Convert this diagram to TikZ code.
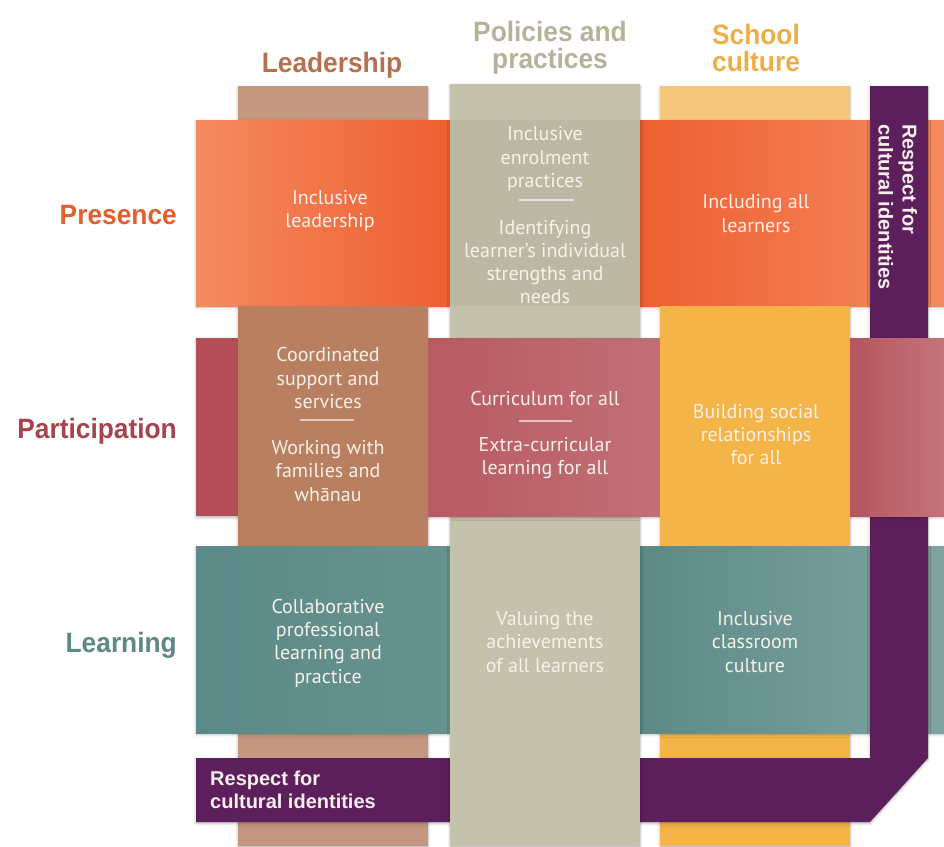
\documentclass[tikz,border=0pt]{standalone}
\usepackage{fontspec}
\setmainfont{PT Sans}
\newfontfamily\cellfam{PT Sans}
\newfontfamily\headfam[FakeStretch=0.94]{Liberation Sans}
\newfontfamily\bandfam{Liberation Sans}
\usetikzlibrary{shadows.blur}

\definecolor{leadL}{HTML}{C49880}
\definecolor{leadD}{HTML}{B87F60}
\definecolor{polC}{HTML}{C4C1AC}
\definecolor{polD}{HTML}{BCB8A3}
\definecolor{schL}{HTML}{F6C67A}
\definecolor{schC}{HTML}{F5B447}
\definecolor{purp}{HTML}{5C1F5B}
\definecolor{presL}{HTML}{F58A60}
\definecolor{presD}{HTML}{EE5F30}
\definecolor{partA}{HTML}{B34D57}
\definecolor{partM1}{HTML}{B85A62}
\definecolor{partM2}{HTML}{C26F77}
\definecolor{partR1}{HTML}{B5545E}
\definecolor{partR2}{HTML}{C4747B}
\definecolor{learnA}{HTML}{5C8A88}
\definecolor{learnB}{HTML}{66938F}
\definecolor{learnL}{HTML}{80A4A0}
\definecolor{celltext}{HTML}{F8F1EA}
\definecolor{hLead}{HTML}{B5714F}
\definecolor{hPol}{HTML}{B5B29A}
\definecolor{hSch}{HTML}{ECAF48}
\definecolor{hPres}{HTML}{E0602E}
\definecolor{hPart}{HTML}{A6434B}
\definecolor{hLearn}{HTML}{5C8886}

\newcommand\cellfont{\cellfam\fontsize{20}{23.3}\selectfont}
\newcommand\headfont{\headfam\bfseries\fontsize{28}{28}\selectfont}
\newcommand\bandfont{\bandfam\bfseries\fontsize{20}{23}\selectfont}

\begin{document}
\begin{tikzpicture}[x=1pt,y=-1pt,
  shad/.style={blur shadow={shadow xshift=0pt,shadow yshift=-1.5pt,shadow blur radius=2.5pt,shadow opacity=30}},
  cell/.style={font=\cellfont,text=celltext,align=center,inner sep=0pt},
  head/.style={font=\headfont,inner sep=0pt},
  band/.style={font=\bandfont,text=celltext,inner sep=0pt},
  sepline/.style={draw=white,draw opacity=0.6,line width=1.5pt}]
\useasboundingbox (0,0) rectangle (944,846);

% columns: leadership and school culture
\path[fill=leadL,shad] (238,86) rectangle (428,846);
\path[fill=schC,shad] (660,86) rectangle (850,846);
\fill[schL] (660,86) rectangle (850,122);

% presence row
\path[shad,left color=presL,right color=presD] (196,120) rectangle (450,306);
\path[shad,left color=presD,right color=presL] (640,120) rectangle (944,306);

% learning row
\path[shad,left color=learnA,right color=learnB] (196,546) rectangle (450,733);
\path[shad,left color=learnA,right color=learnL] (640,546) rectangle (944,733);

% purple band
\path[fill=purp,shad] (196,758) -- (870,758) -- (870,86) -- (928,86) -- (928,758) -- (870,822) -- (196,822) -- cycle;

% policies column
\path[fill=polC,shad] (450,84) rectangle (640,846);
\fill[polD] (450,120) rectangle (640,306);

% participation row pieces
\path[fill=partA,shad] (196,338) rectangle (240,516);
\path[shad,left color=partM1,right color=partM2] (426,338) rectangle (662,516);
\path[shad,left color=partR1,right color=partR2] (848,338) rectangle (944,516);

% column segments over participation row
\fill[leadD] (238,306) rectangle (428,546);
\fill[schC] (660,306) rectangle (850,546);

% separators
\draw[sepline] (519,200) -- (574,200);
\draw[sepline] (300,420) -- (354,420);
\draw[sepline] (519,421) -- (572,421);

% cell texts
\node[cell] (c11) at (330,211) {Inclusive\\leadership};
\node[cell] (c12a) at (545,159) {Inclusive\\enrolment\\practices};
\node[cell] (c12b) at (545,262) {Identifying\\learner’s individual\\strengths and\\needs};
\node[cell] (c13) at (756,213.5) {Including all\\learners};
\node[cell] (c21a) at (328,378) {Coordinated\\support and\\services};
\node[cell] (c21b) at (328,471) {Working with\\families and\\whānau};
\node[cell] (c22a) at (545,398) {Curriculum for all};
\node[cell] (c22b) at (545,458) {Extra-curricular\\learning for all};
\node[cell] (c23) at (756,434.5) {Building social\\relationships\\for all};
\node[cell] (c31) at (328,643) {Collaborative\\professional\\learning and\\practice};
\node[cell] (c32) at (545,642) {Valuing the\\achievements\\of all learners};
\node[cell] (c33) at (755,642) {Inclusive\\classroom\\culture};

% headings
\node[head,text=hLead,anchor=base] (hlead) at (332,72.7) {Leadership};
\node[head,text=hPol,anchor=base] (hpol1) at (550,41) {Policies and};
\node[head,text=hPol,anchor=base] (hpol2) at (550,68.5) {practices};
\node[head,text=hSch,anchor=base] (hsch1) at (756,44) {School};
\node[head,text=hSch,anchor=base] (hsch2) at (756,71.5) {culture};
\node[head,text=hPres,anchor=base east] (rpres) at (177,224) {Presence};
\node[head,text=hPart,anchor=base east] (rpart) at (177,438) {Participation};
\node[head,text=hLearn,anchor=base east] (rlearn) at (177,652) {Learning};

% purple band texts
\node[band,anchor=base west] (b1) at (210,785) {Respect for};
\node[band,anchor=base west] (b2) at (210,808) {cultural identities};
\node[band,rotate=-90,anchor=base west] (v1) at (902.5,124) {Respect for};
\node[band,rotate=-90,anchor=base west] (v2) at (878.5,124) {cultural identities};
\end{tikzpicture}
\end{document}
